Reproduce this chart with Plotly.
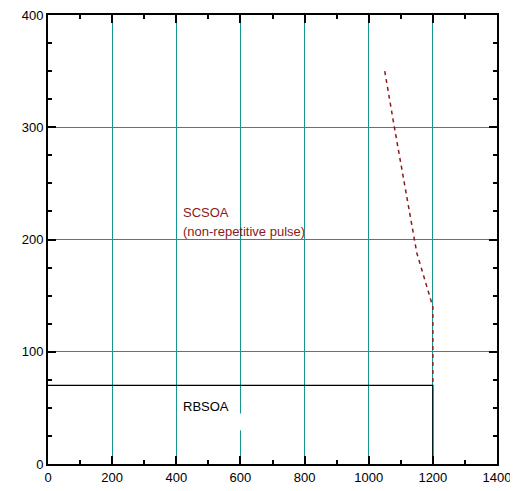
import plotly.graph_objects as go

rbsoa_x = [0, 1200, 1200]
rbsoa_y = [70, 70, 0]
scsoa_x = [1050, 1080, 1150, 1200, 1200]
scsoa_y = [350, 300, 188, 140, 70]

x_ticks = [0, 200, 400, 600, 800, 1000, 1200, 1400]
y_ticks = [0, 100, 200, 300, 400]

fig = go.Figure()
fig.add_trace(go.Scatter(x=rbsoa_x, y=rbsoa_y, mode="lines",
                         line=dict(color="black", width=1.3), showlegend=False))
fig.add_trace(go.Scatter(x=scsoa_x, y=scsoa_y, mode="lines",
                         line=dict(color="#8B1A1A", width=1.5, dash="4px,4px"), showlegend=False))

# small white gap on the 600 grid line (as in the reference)
fig.add_shape(type="line", x0=600, x1=600, y0=30, y1=45,
              line=dict(color="white", width=3), layer="above")

fig.add_annotation(x=415, y=224, text="SCSOA", showarrow=False, xanchor="left",
                   font=dict(family="Liberation Sans, Arial", size=13, color="#8B1A1A"))
fig.add_annotation(x=415, y=207, text="(non-repetitive pulse)", showarrow=False, xanchor="left",
                   font=dict(family="Liberation Sans, Arial", size=13, color="#8B1A1A"))
fig.add_annotation(x=415, y=51, text="RBSOA", showarrow=False, xanchor="left",
                   font=dict(family="Liberation Sans, Arial", size=13, color="black"))

axis_common = dict(showline=True, linecolor="black", linewidth=2, mirror="allticks",
                   ticks="inside", ticklen=8, tickwidth=1.5, tickcolor="black",
                   showgrid=True, gridcolor="#129696", gridwidth=1, zeroline=False,
                   automargin=False, ticklabeloverflow="allow",
                   tickfont=dict(family="Liberation Sans, Arial", size=13, color="black"))

fig.update_xaxes(range=[0, 1400], tickvals=x_ticks, ticktext=[str(v) for v in x_ticks],
                 minor=dict(dtick=100, tick0=0, ticks="inside", ticklen=4, tickcolor="black", showgrid=False),
                 **axis_common)
fig.update_yaxes(range=[0, 400], tickvals=y_ticks, ticktext=[str(v) for v in y_ticks],
                 minor=dict(dtick=25, tick0=0, ticks="inside", ticklen=4, tickcolor="black", showgrid=False),
                 **axis_common)

fig.update_layout(width=518, height=483, margin=dict(l=40, r=29, t=7, b=27, autoexpand=False),
                  plot_bgcolor="white", paper_bgcolor="white")
fig.write_html("out.html")
